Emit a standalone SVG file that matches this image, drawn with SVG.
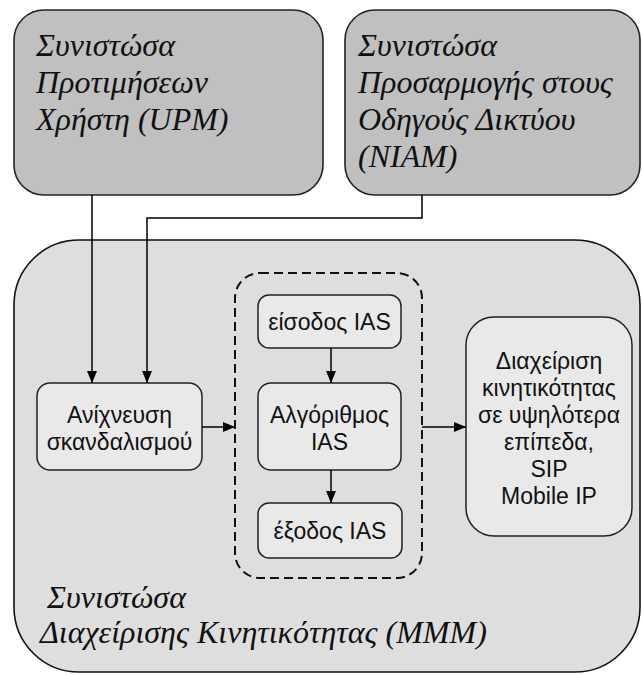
<svg xmlns="http://www.w3.org/2000/svg" width="642" height="675" viewBox="0 0 642 675">
  <style>
    .outer { fill: #c0c0c0; stroke: #222; stroke-width: 1.6; }
    .main { fill: #dedede; stroke: #111; stroke-width: 1.6; }
    .inner { fill: #e9e9e9; stroke: #222; stroke-width: 1.5; }
    .dash { fill: none; stroke: #111; stroke-width: 2; stroke-dasharray: 9 5; }
    .title { font-family: 'Liberation Serif', 'Times New Roman', serif; font-style: italic; font-size: 32px; fill: #111; }
    .label { font-family: 'Liberation Sans', Arial, sans-serif; font-size: 23px; fill: #111; text-anchor: middle; }
    .conn { fill: none; stroke: #000; stroke-width: 1.5; }
  </style>
  <defs>
    <marker id="arrow" viewBox="0 0 12 10" refX="12" refY="5" markerWidth="12" markerHeight="10" markerUnits="userSpaceOnUse" orient="auto">
      <path d="M0,0 L12,5 L0,10 z" fill="#000"/>
    </marker>
  </defs>

  <!-- Mobility management component (container) -->
  <g id="mmm">
    <rect class="main" x="14" y="240" width="626" height="432" rx="65" ry="65"/>
    <text class="title" x="47" y="608">Συνιστώσα</text>
    <text class="title" x="40" y="643">Διαχείρισης Κινητικότητας (MMM)</text>
  </g>

  <!-- User preferences component -->
  <g id="upm">
    <rect class="outer" x="14" y="10" width="309" height="185" rx="30" ry="30"/>
    <text class="title" x="36" y="56">Συνιστώσα</text>
    <text class="title" x="36" y="93">Προτιμήσεων</text>
    <text class="title" x="36" y="130">Χρήστη (UPM)</text>
  </g>

  <!-- Network interface adaptation component -->
  <g id="niam">
    <rect class="outer" x="345" y="10" width="295" height="185" rx="30" ry="30"/>
    <text class="title" x="358" y="56">Συνιστώσα</text>
    <text class="title" x="358" y="93">Προσαρμογής στους</text>
    <text class="title" x="358" y="130">Οδηγούς Δικτύου</text>
    <text class="title" x="358" y="167">(NIAM)</text>
  </g>

  <!-- IAS group boundary -->
  <g id="ias-group">
    <rect class="dash" x="235" y="273" width="187" height="305" rx="25" ry="25"/>
  </g>

  <g id="trigger">
    <rect class="inner" x="37" y="383" width="165" height="87" rx="13" ry="13"/>
    <text class="label" x="119.5" y="423">Ανίχνευση</text>
    <text class="label" x="119.5" y="450">σκανδαλισμού</text>
  </g>

  <g id="ias-in">
    <rect class="inner" x="258" y="295" width="143" height="53" rx="11" ry="11"/>
    <text class="label" x="329.5" y="330">είσοδος IAS</text>
  </g>

  <g id="ias-alg">
    <rect class="inner" x="258" y="383" width="143" height="87" rx="13" ry="13"/>
    <text class="label" x="329.5" y="423">Αλγόριθμος</text>
    <text class="label" x="329.5" y="450">IAS</text>
  </g>

  <g id="ias-out">
    <rect class="inner" x="258" y="503" width="144" height="55" rx="11" ry="11"/>
    <text class="label" x="330" y="539">έξοδος IAS</text>
  </g>

  <g id="higher">
    <rect class="inner" x="466" y="317" width="166" height="219" rx="28" ry="28"/>
    <text class="label" x="549" y="369">Διαχείριση</text>
    <text class="label" x="549" y="396">κινητικότητας</text>
    <text class="label" x="549" y="423">σε υψηλότερα</text>
    <text class="label" x="549" y="450">επίπεδα,</text>
    <text class="label" x="549" y="477">SIP</text>
    <text class="label" x="549" y="504">Mobile IP</text>
  </g>

  <!-- Connectors -->
  <g id="connectors">
    <path class="conn" d="M92,195 V383" marker-end="url(#arrow)"/>
    <path class="conn" d="M422,195 V218 H147 V383" marker-end="url(#arrow)"/>
    <path class="conn" d="M202,427 H235" marker-end="url(#arrow)"/>
    <path class="conn" d="M331,348 V383" marker-end="url(#arrow)"/>
    <path class="conn" d="M331,470 V503" marker-end="url(#arrow)"/>
    <path class="conn" d="M422,427 H466" marker-end="url(#arrow)"/>
  </g>
</svg>
